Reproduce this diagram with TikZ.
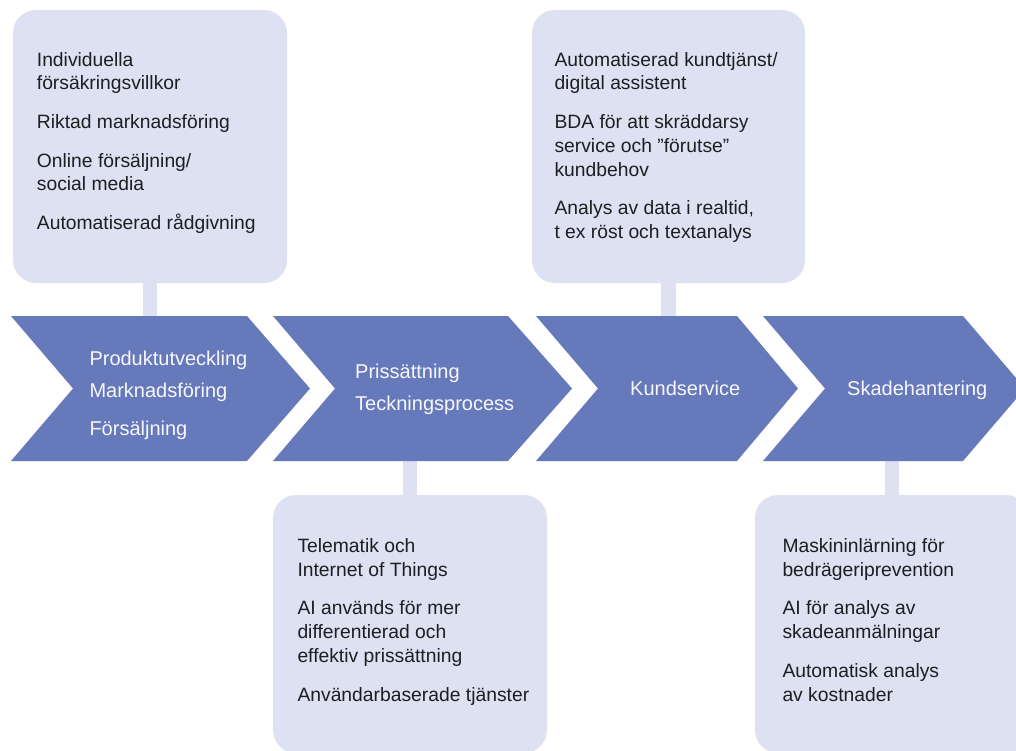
\documentclass[tikz,border=0pt]{standalone}
\usepackage{fontspec}
\setmainfont{Liberation Sans}
\definecolor{chevfill}{RGB}{102,121,186}
\definecolor{cardfill}{RGB}{222,225,241}
\definecolor{cardink}{RGB}{30,30,34}
\definecolor{chevink}{RGB}{248,248,252}
% strut that fixes the distance from a text block's top edge to its first baseline
\newcommand{\topstrut}{\rule{0pt}{20pt}}
\begin{document}
\begin{tikzpicture}[x=1pt,y=-1pt,
  card/.style={fill=cardfill, draw=none, rounded corners=23pt, inner sep=0pt, minimum width=274pt},
  link/.style={draw=cardfill, line width=14.5pt},
  block/.style={fill=chevfill, draw=none},
  cardtext/.style={anchor=north west, inner sep=0pt, align=left, text=cardink,
    font=\fontsize{19.3}{23.8}\selectfont},
  chevtext/.style={anchor=north west, inner sep=0pt, align=left, text=chevink,
    font=\fontsize{20}{31.6}\selectfont},
]
\useasboundingbox (0,0) rectangle (1016,751);
\clip (0,0) rectangle (1016,751);
\fill[white] (0,0) rectangle (1016,751);

% band edges used by the vertical links
\coordinate (bandtop) at (0,318);
\coordinate (bandbot) at (0,459);

% cards
\node[card, minimum height=273pt] (b1) at (150,146.5) {};
\node[card, minimum height=273pt, minimum width=273pt] (b3) at (668.5,146.5) {};
\node[card, minimum height=258pt] (b2) at (410,624) {};
\node[card, minimum height=258pt] (b4) at (892,624) {};

% links between cards and the band
\draw[link] (b1.south) -- (b1.south |- bandtop);
\draw[link] (b3.south) -- (b3.south |- bandtop);
\draw[link] (b2.north) -- (b2.north |- bandbot);
\draw[link] (b4.north) -- (b4.north |- bandbot);

% process chevrons
\fill[block] (11,316) -- (247,316) -- (310,388.5) -- (247,461) -- (11,461) -- (73,388.5) -- cycle;
\fill[block] (273,316) -- (508,316) -- (572,388.5) -- (508,461) -- (273,461) -- (335,388.5) -- cycle;
\fill[block] (536,316) -- (737,316) -- (798,388.5) -- (737,461) -- (536,461) -- (598,388.5) -- cycle;
\fill[block] (763,316) -- (963,316) -- (1025,388.5) -- (963,461) -- (763,461) -- (825,388.5) -- cycle;

% chevron labels
\node[chevtext] (c1) at (89.3,345.7) {\topstrut Produktutveckling\\Marknadsföring\\[6.1pt]Försäljning};
\node[chevtext] (c2) at (355,358.3) {\topstrut Prissättning\\Teckningsprocess};
\node[chevtext] (c3) at (630,375) {\topstrut Kundservice};
\node[chevtext] (c4) at (847,375) {\topstrut Skadehantering};

% card texts
\node[cardtext] (t1) at (36.7,46) {\topstrut Individuella\\försäkringsvillkor\\[14.8pt]Riktad marknadsföring\\[14.8pt]Online försäljning/\\social media\\[14.8pt]Automatiserad rådgivning};
\node[cardtext] (t3) at (554.3,46) {\topstrut Automatiserad kundtjänst/\\digital assistent\\[14.8pt]BDA för att skräddarsy\\service och ”förutse”\\kundbehov\\[14.8pt]Analys av data i realtid,\\t ex röst och textanalys};
\node[cardtext] (t2) at (297.3,532.3) {\topstrut Telematik och\\Internet of Things\\[14.8pt]AI används för mer\\differentierad och\\effektiv prissättning\\[14.8pt]Användarbaserade tjänster};
\node[cardtext] (t4) at (782.3,532.3) {\topstrut Maskininlärning för\\bedrägeriprevention\\[14.8pt]AI för analys av\\skadeanmälningar\\[14.8pt]Automatisk analys\\av kostnader};
\end{tikzpicture}
\end{document}
